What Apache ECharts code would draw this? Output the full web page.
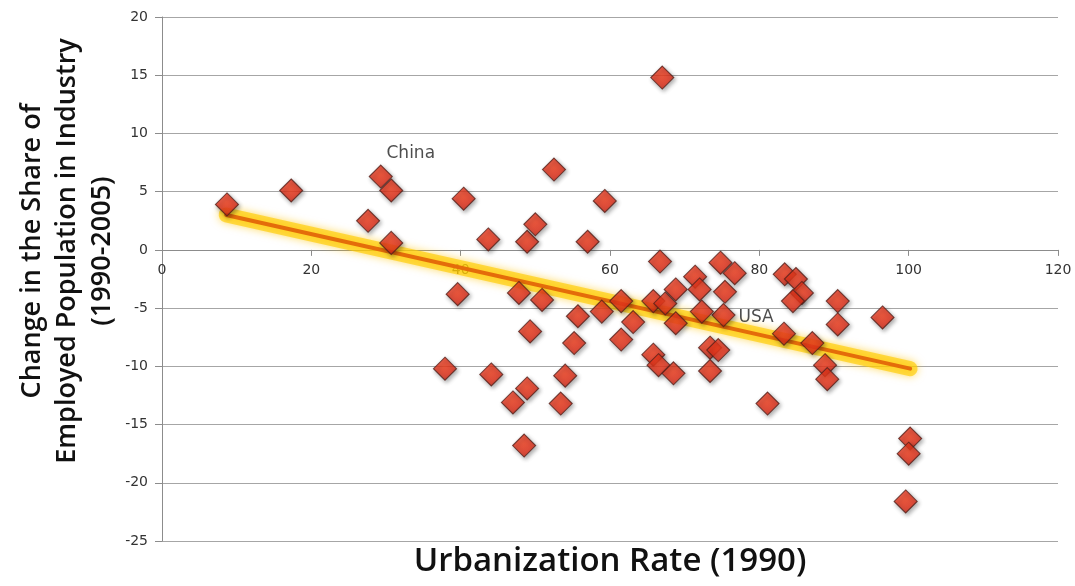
<!DOCTYPE html>
<html>
<head>
<meta charset="utf-8">
<title>Urbanization and Industrial Employment</title>
<script src="https://cdn.jsdelivr.net/npm/echarts@6/dist/echarts.min.js"></script>
<style>
  html, body { margin: 0; padding: 0; background: #ffffff; }
  #chart { width: 1075px; height: 586px; }
</style>
</head>
<body>
<div id="chart"></div>
<script>
// Urbanization rate in 1990 (%) for each country
const urbanization = [
  8.7, 17.3, 29.3, 30.7, 27.6, 30.7, 40.4, 43.7, 48.9, 50.0,
  52.5, 57.0, 59.3, 67.0, 66.7, 39.6, 47.8, 50.9, 49.3, 37.9,
  44.1, 47.0, 48.9, 48.5, 53.4, 54.0, 55.7, 55.2, 58.9, 61.5,
  63.1, 61.5, 65.8, 67.4, 68.8, 71.4, 72.0, 75.4, 74.8, 76.7,
  75.2, 72.3, 68.8, 65.8, 66.5, 68.5, 73.4, 74.5, 73.4, 83.4,
  84.9, 85.7, 84.5, 90.5, 90.5, 96.5, 83.3, 87.1, 88.8, 89.1,
  81.1, 100.2, 100.0, 99.6
];
// Change in the share of employment in industry, 1990-2005 (percentage points)
const industryChange = [
  3.9, 5.1, 6.3, 5.1, 2.5, 0.6, 4.4, 0.9, 0.7, 2.2,
  6.9, 0.7, 4.2, 14.8, -1.0, -3.8, -3.7, -4.3, -7.0, -10.2,
  -10.7, -13.1, -11.9, -16.8, -13.2, -10.8, -5.7, -8.0, -5.3, -4.4,
  -6.2, -7.7, -4.4, -4.6, -3.4, -2.3, -3.4, -3.6, -1.1, -2.0,
  -5.6, -5.3, -6.3, -9.0, -9.9, -10.6, -8.4, -8.6, -10.4, -2.1,
  -2.5, -3.7, -4.4, -4.4, -6.4, -5.8, -7.2, -8.0, -9.9, -11.1,
  -13.2, -16.2, -17.5, -21.6
];
// Named countries, by position in the arrays above
const countryNames = { 2: 'China', 40: 'USA' };

// Linear trend line end points [urbanization, change]
const trendStart = [8.6, 3.0];
const trendEnd = [100.2, -10.2];

// Axis ranges and tick steps
const xTicks = { min: 0, max: 120, step: 20 };
const yTicks = { min: -25, max: 20, step: 5 };

const tickFont = '"DejaVu Sans", sans-serif';
const titleFont = '"Open Sans", Lato, sans-serif';

const gridTop = 17;
const gridBottom = 45;
const chartHeight = 586;
// distance from the bottom of the plot up to the zero line, so the x axis sits on y = 0
const plotHeight = chartHeight - gridTop - gridBottom;
const zeroLift = plotHeight * (0 - yTicks.min) / (yTicks.max - yTicks.min);

const points = urbanization.map((x, i) => {
  const item = { value: [x, industryChange[i]] };
  if (countryNames[i] === 'China') {
    item.label = {
      show: true, formatter: 'China', position: 'top',
      offset: [30, 3], fontSize: 17, color: '#222', fontFamily: tickFont
    };
  } else if (countryNames[i] === 'USA') {
    item.label = {
      show: true, formatter: 'USA', position: 'right',
      distance: 3, offset: [0, 2], fontSize: 17, color: '#222', fontFamily: tickFont
    };
  }
  return item;
});

const chart = echarts.init(document.getElementById('chart'), null, { renderer: 'canvas' });

chart.setOption({
  backgroundColor: '#ffffff',
  animation: false,
  grid: { left: 162, right: 17, top: gridTop, bottom: gridBottom, containLabel: false },
  xAxis: {
    type: 'value',
    position: 'bottom',
    offset: -zeroLift,
    min: xTicks.min, max: xTicks.max, interval: xTicks.step,
    axisLine: { onZero: false, lineStyle: { color: '#8c8c8c', width: 1 } },
    axisTick: { show: true, inside: false, length: 6, lineStyle: { color: '#8c8c8c' } },
    axisLabel: { margin: 13, fontSize: 14, color: '#333', fontFamily: tickFont },
    splitLine: { show: false }
  },
  yAxis: {
    type: 'value',
    min: yTicks.min, max: yTicks.max, interval: yTicks.step,
    axisLine: { show: true, onZero: false, lineStyle: { color: '#8c8c8c', width: 1 } },
    axisTick: { show: true, inside: false, length: 7, lineStyle: { color: '#8c8c8c' } },
    axisLabel: { margin: 14, fontSize: 14, color: '#333', fontFamily: tickFont },
    splitLine: { show: true, lineStyle: { color: '#a6a6a6', width: 1.2 } }
  },
  graphic: [
    {
      type: 'text',
      x: 610, y: 562,
      style: {
        text: 'Urbanization Rate (1990)',
        x: 0, y: 0,
        align: 'center', verticalAlign: 'middle',
        font: '600 33px ' + titleFont,
        fill: '#111'
      }
    },
    {
      type: 'text',
      x: 67, y: 251,
      rotation: Math.PI / 2,
      style: {
        text: 'Change in the Share of\nEmployed Population in Industry\n(1990-2005)',
        x: 0, y: 0,
        align: 'center', verticalAlign: 'middle',
        font: '600 27px ' + titleFont,
        lineHeight: 35,
        fill: '#111'
      }
    }
  ],
  series: [
    {
      // soft yellow glow behind the trend line
      type: 'line',
      data: [trendStart, trendEnd],
      symbol: 'none',
      silent: true,
      z: 2,
      lineStyle: {
        color: 'rgba(255, 204, 0, 0.65)', width: 15, cap: 'round',
        shadowColor: 'rgba(255, 196, 0, 0.9)', shadowBlur: 8
      }
    },
    {
      type: 'line',
      data: [trendStart, trendEnd],
      symbol: 'none',
      silent: true,
      z: 3,
      lineStyle: { color: '#E46C0A', width: 4, cap: 'round' }
    },
    {
      type: 'scatter',
      data: points,
      symbol: 'diamond',
      symbolSize: 23,
      z: 4,
      itemStyle: {
        color: new echarts.graphic.RadialGradient(0.45, 0.4, 0.65, [
          { offset: 0, color: '#F6401F' },
          { offset: 0.65, color: '#E6301A' },
          { offset: 1, color: '#C02212' }
        ]),
        borderColor: '#55201A',
        borderWidth: 1.1,
        shadowColor: 'rgba(0, 0, 0, 0.4)',
        shadowBlur: 4,
        shadowOffsetX: 1.5,
        shadowOffsetY: 2
      }
    }
  ]
});
</script>
</body>
</html>
